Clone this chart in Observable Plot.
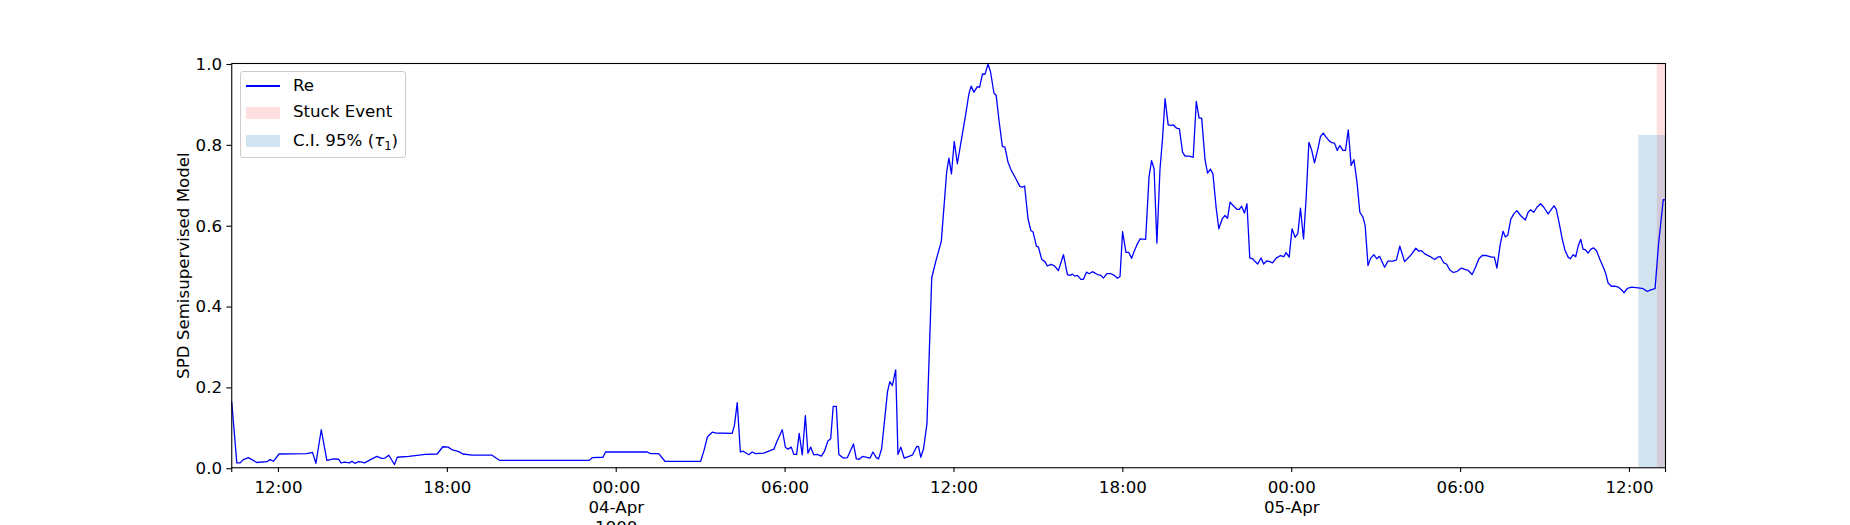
<!DOCTYPE html>
<html>
<head>
<meta charset="utf-8">
<script src="https://cdn.jsdelivr.net/npm/d3@7"></script>
<script src="https://cdn.jsdelivr.net/npm/@observablehq/plot@0.6"></script>
<style>
  html, body { margin: 0; padding: 0; background: #fff; }
  #wrap { position: relative; width: 1850px; height: 525px; overflow: hidden; font-family: "DejaVu Sans", sans-serif; }
  #wrap svg { position: absolute; left: 0; top: 0; }
  .lg { position: absolute; }
  .lgtext { position: absolute; font-size: 16.67px; line-height: 16.67px; white-space: nowrap; color: #000; }
</style>
</head>
<body>
<div id="wrap"></div>
<script>
// Hours since 1900-04-03 00:00
const hours = [
  10.34,10.52,10.64,10.75,10.93,11.23,11.59,11.70,11.82,12.02,13.01,13.21,13.33,13.52,13.72,13.96,14.14,14.22,14.35,14.52,
  14.61,14.71,14.85,14.97,15.06,15.27,15.50,15.66,15.78,15.92,16.12,16.22,16.63,17.22,17.64,17.84,18.03,18.18,18.41,18.55,
  18.89,19.59,19.86,23.03,23.15,23.53,23.62,25.10,25.22,25.51,25.73,27.00,27.12,27.24,27.41,27.53,28.12,28.20,28.30,28.41,
  28.51,28.71,28.83,28.95,29.24,29.60,29.72,29.90,30.01,30.10,30.22,30.31,30.41,30.50,30.61,30.72,30.81,30.91,31.02,31.14,
  31.29,31.40,31.52,31.62,31.71,31.82,31.91,32.07,32.21,32.43,32.53,32.63,32.75,33.02,33.12,33.24,33.32,33.43,33.64,33.72,
  33.81,33.93,34.01,34.11,34.23,34.40,34.53,34.68,34.74,34.82,34.92,35.04,35.21,35.37,35.55,35.74,35.82,35.91,36.01,36.12,
  36.27,36.41,36.53,36.61,36.71,36.83,36.91,37.01,37.10,37.21,37.30,37.42,37.50,37.60,37.72,37.81,37.92,38.04,38.19,38.34,
  38.43,38.51,38.63,38.73,38.81,38.93,39.00,39.12,39.23,39.32,39.44,39.56,39.71,39.89,40.03,40.12,40.21,40.29,40.39,40.51,
  40.60,40.71,40.80,40.92,41.10,41.22,41.31,41.43,41.58,41.69,41.81,41.90,41.99,42.11,42.21,42.31,42.39,42.49,42.61,42.81,
  42.93,43.02,43.11,43.21,43.32,43.41,43.50,43.61,43.70,43.80,43.91,44.01,44.12,44.21,44.36,44.50,44.61,44.71,44.80,44.92,
  45.01,45.11,45.20,45.32,45.41,45.54,45.63,45.72,45.81,45.90,46.06,46.14,46.22,46.32,46.41,46.51,46.61,46.70,46.79,46.91,
  47.00,47.12,47.22,47.32,47.44,47.60,47.72,47.80,47.91,48.01,48.12,48.22,48.31,48.42,48.51,48.61,48.70,48.81,48.93,49.02,
  49.12,49.22,49.34,49.43,49.52,49.62,49.71,49.82,49.91,50.01,50.11,50.21,50.32,50.42,50.53,50.61,50.71,50.80,50.92,51.02,
  51.12,51.30,51.42,51.60,51.72,51.84,52.01,52.22,52.41,52.51,52.61,52.73,52.90,53.08,53.18,53.28,53.40,53.50,53.62,53.74,
  53.88,54.03,54.17,54.27,54.41,54.53,54.65,54.77,54.92,55.10,55.20,55.29,55.41,55.51,55.59,55.68,55.78,55.89,56.00,56.13,
  56.30,56.40,56.49,56.60,56.72,56.84,56.95,57.11,57.23,57.32,57.40,57.52,57.61,57.70,57.82,57.90,58.00,58.09,58.18,58.27,
  58.35,58.44,58.53,58.63,58.72,58.83,58.95,59.07,59.15,59.24,59.36,59.48,59.60,59.72,59.81,59.93,60.08,60.31,60.49,60.63,
  60.76,60.91,61.03,61.20,61.28
];
const values = [
  0.162,0.012,0.012,0.020,0.025,0.013,0.015,0.020,0.016,0.034,0.035,0.038,0.011,0.094,0.018,0.022,0.021,0.012,0.014,0.012,
  0.016,0.011,0.015,0.014,0.012,0.020,0.028,0.023,0.024,0.031,0.008,0.026,0.028,0.033,0.034,0.052,0.051,0.044,0.040,0.034,
  0.031,0.031,0.018,0.018,0.025,0.026,0.039,0.039,0.035,0.035,0.016,0.016,0.043,0.076,0.088,0.086,0.085,0.105,0.161,0.039,
  0.041,0.032,0.039,0.035,0.036,0.046,0.067,0.094,0.051,0.046,0.051,0.033,0.033,0.085,0.032,0.129,0.036,0.051,0.032,0.033,
  0.029,0.041,0.066,0.072,0.152,0.152,0.033,0.024,0.025,0.059,0.022,0.021,0.028,0.024,0.039,0.025,0.022,0.047,0.189,0.213,
  0.203,0.242,0.033,0.051,0.024,0.028,0.032,0.053,0.052,0.026,0.047,0.109,0.470,0.515,0.560,0.731,0.766,0.727,0.807,0.752,
  0.814,0.871,0.925,0.944,0.929,0.943,0.941,0.974,0.973,0.998,0.979,0.927,0.921,0.859,0.795,0.793,0.756,0.735,0.716,0.696,
  0.694,0.697,0.616,0.587,0.583,0.548,0.546,0.515,0.510,0.499,0.503,0.500,0.488,0.527,0.478,0.476,0.479,0.474,0.476,0.466,
  0.466,0.484,0.480,0.485,0.478,0.476,0.469,0.480,0.480,0.476,0.469,0.473,0.584,0.533,0.533,0.518,0.533,0.550,0.566,0.565,
  0.719,0.760,0.739,0.556,0.739,0.814,0.913,0.848,0.847,0.848,0.840,0.838,0.781,0.771,0.771,0.768,0.906,0.865,0.865,0.762,
  0.729,0.739,0.727,0.640,0.591,0.617,0.624,0.617,0.657,0.650,0.639,0.639,0.647,0.630,0.653,0.519,0.517,0.510,0.504,0.519,
  0.504,0.512,0.510,0.507,0.518,0.525,0.522,0.532,0.521,0.591,0.570,0.580,0.642,0.566,0.665,0.805,0.788,0.754,0.789,0.819,
  0.828,0.818,0.808,0.804,0.803,0.785,0.797,0.785,0.785,0.836,0.748,0.762,0.706,0.632,0.620,0.599,0.500,0.518,0.527,0.517,
  0.523,0.496,0.511,0.511,0.514,0.548,0.510,0.525,0.543,0.536,0.537,0.529,0.523,0.515,0.521,0.522,0.507,0.504,0.489,0.483,
  0.486,0.494,0.490,0.488,0.478,0.496,0.517,0.525,0.525,0.521,0.521,0.494,0.554,0.585,0.571,0.576,0.614,0.628,0.636,0.624,
  0.613,0.632,0.638,0.632,0.645,0.653,0.645,0.628,0.640,0.648,0.639,0.599,0.566,0.540,0.521,0.517,0.527,0.522,0.549,0.565,
  0.541,0.539,0.531,0.541,0.544,0.537,0.515,0.496,0.482,0.457,0.449,0.449,0.447,0.440,0.433,0.444,0.447,0.445,0.443,0.436,
  0.440,0.443,0.551,0.663,0.663
];
// Shaded spans (hours since 1900-04-03 00:00)
const stuckEvent = [60.99, 61.28];
const ciSpan = [60.33, 61.28];
const ciTop = 0.822;
// Axis ticks
const xTickHours = [12, 18, 24, 30, 36, 42, 48, 54, 60];
const xTickLabels = ["12:00", "18:00", "00:00\n04-Apr\n1900", "06:00", "12:00", "18:00", "00:00\n05-Apr", "06:00", "12:00"];
const yTicks = [0, 0.2, 0.4, 0.6, 0.8, 1.0];
const yLabel = "SPD Semisupervised Model";
const seriesName = "Re";

const base = Date.UTC(1900, 3, 3, 0, 0);
const toDate = h => new Date(base + h * 3600000);
const data = hours.map((h, i) => ({t: toDate(h), v: values[i]}));
const domain = d3.extent(data, d => d.t);
const labelMap = new Map(xTickHours.map((h, i) => [+toDate(h), xTickLabels[i]]));
const xTicks = [domain[0], ...xTickHours.map(toDate), domain[1]];

const chart = Plot.plot({
  width: 1850,
  height: 525,
  marginLeft: 231.25,
  marginRight: 185,
  marginTop: 63,
  marginBottom: 57.75,
  style: {fontFamily: "DejaVu Sans", fontSize: "16.67px", background: "transparent", color: "black", overflow: "visible"},
  x: {type: "utc", domain},
  y: {domain: [0, 1]},
  marks: [
    Plot.rect([{x1: toDate(stuckEvent[0]), x2: toDate(stuckEvent[1])}], {x1: "x1", x2: "x2", y1: 0, y2: 1, fill: "red", fillOpacity: 0.12}),
    Plot.rect([{x1: toDate(ciSpan[0]), x2: toDate(ciSpan[1])}], {x1: "x1", x2: "x2", y1: 0, y2: ciTop, fill: "#1f77b4", fillOpacity: 0.2}),
    Plot.line(data, {x: "t", y: "v", stroke: "blue", strokeWidth: 1.3}),
    Plot.frame({stroke: "black", strokeWidth: 1.1}),
    Plot.axisY({ticks: yTicks, tickFormat: d3.format(".1f"), tickSize: 4.86, tickPadding: 4.86, label: null, fontSize: 16.67, strokeWidth: 1.1, dy: 1}),
    Plot.axisX({ticks: xTicks, tickFormat: d => labelMap.get(+d) ?? "", tickSize: 4.86, tickPadding: 6.2, label: null, fontSize: 16.67, lineHeight: 1.2, strokeWidth: 1.1}),
    Plot.text([yLabel], {text: d => d, frameAnchor: "left", dx: -48.25, rotate: -90, fontSize: 16.67, textAnchor: "middle"})
  ]
});
const wrap = document.getElementById("wrap");
wrap.appendChild(chart);

// Legend (matplotlib style, upper left)
const legendHTML = `
  <div class="lg" style="left:239.6px;top:71.3px;width:166.4px;height:87px;box-sizing:border-box;border:1px solid #cccccc;border-radius:3px;background:rgba(255,255,255,0.8);"></div>
  <div class="lg" style="left:246.3px;top:85.3px;width:33.3px;height:1.4px;background:blue;"></div>
  <div class="lg" style="left:246.3px;top:106.9px;width:33.3px;height:11.7px;background:rgba(255,0,0,0.12);"></div>
  <div class="lg" style="left:246.3px;top:135.4px;width:33.3px;height:11.7px;background:rgba(31,119,180,0.2);"></div>
  <div class="lgtext" style="left:292.9px;top:78.2px;">${seriesName}</div>
  <div class="lgtext" style="left:292.9px;top:104.2px;">Stuck Event</div>
  <div class="lgtext" style="left:292.9px;top:133.2px;">C.I. 95% (<span style="font-style:italic;">τ</span><span style="font-size:0.7em;position:relative;top:0.3em;line-height:0;">1</span>)</div>
`;
wrap.insertAdjacentHTML("beforeend", legendHTML);
</script>
</body>
</html>
